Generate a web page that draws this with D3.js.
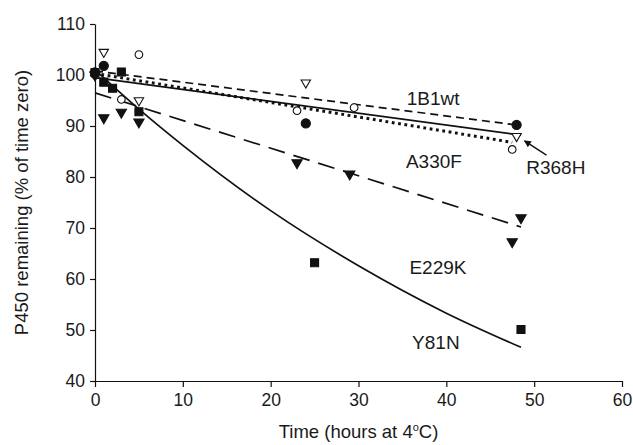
<!DOCTYPE html>
<html>
<head>
<meta charset="utf-8">
<script src="https://cdn.jsdelivr.net/npm/d3@7"></script>
<style>
body{margin:0;background:#fff;}
text{font-family:"Liberation Sans",Arial,sans-serif;fill:#1a1a1a;}
</style>
</head>
<body>
<script>

// measured points [time (h), % remaining]
var wt1B1 = [[0,100],[1,104.5],[5,95],[24,98.5],[48,88]];
var a330f = [[0,100],[3,95.2],[5,104],[23,93],[29.5,93.6],[47.5,85.4]];
var r368h = [[0,100.5],[1,101.8],[24,90.5],[48,90.2]];
var e229k = [[0,100],[1,91.6],[3,92.7],[5,90.8],[23,82.8],[29,80.6],[47.5,67.3],[48.5,72]];
var y81n = [[0,100.5],[1,98.6],[2,97.4],[3,100.6],[5,92.8],[25,63.2],[48.5,50.1]];

// trend lines
var trendWt = [[0,100.8],[48,90.2]];
var trendA330f = [[0,100.3],[47.5,86.8]];
var trendR368h = [[0,99.5],[48.5,88.2]];
var trendE229k = [[0,96.5],[48.5,70.2]];
var trendY81n = [[0,101],[5,93.3],[10,86.2],[20,73.4],[30,62.6],[40,53.3],[48.5,46.6]];

var xTicks = [0,10,20,30,40,50,60];
var yTicks = [40,50,60,70,80,90,100,110];

var labels = [
    {text:"1B1wt", t:35.5, v:94.2},
    {text:"A330F", t:35.4, v:81.7},
    {text:"R368H", t:49.1, v:80.5},
    {text:"E229K", t:35.8, v:61},
    {text:"Y81N",  t:36.1, v:46.2}
];
var arrowLine = [[51.4,84.3],[48.9,87.1]];

var margin = {left:95,top:24};
var width = 527;
var height = 357;

var svg = d3.select("body").append("svg").attr("width",633).attr("height",445);

var defs = svg.append("defs");
defs.append("marker").attr("id","arrow")
    .attr("viewBox","0 0 10 10").attr("refX",9).attr("refY",5)
    .attr("markerWidth",9).attr("markerHeight",7).attr("orient","auto")
    .attr("markerUnits","userSpaceOnUse")
    .append("path").attr("d","M0,0L10,5L0,10z").attr("fill","#111");

var chartGroup = svg.append("g")
            .attr("transform","translate("+margin.left+","+margin.top+")");

var x = d3.scaleLinear().domain([0,60]).range([0,width]);
var y = d3.scaleLinear().domain([40,110]).range([height,0]);

var xAxis = d3.axisBottom(x).tickValues(xTicks).tickSize(6).tickSizeOuter(0).tickPadding(7);
var yAxis = d3.axisLeft(y).tickValues(yTicks).tickSize(5).tickSizeOuter(0).tickPadding(5);

var gx = chartGroup.append("g").attr("class","x axis").attr("transform","translate(0,"+height+")").call(xAxis);
var gy = chartGroup.append("g").attr("class","y axis").call(yAxis);
svg.selectAll(".axis path, .axis line").attr("stroke","#111").attr("stroke-width",1.2);
svg.selectAll(".axis text").attr("font-size","17.5px").attr("fill","#1a1a1a")
    .attr("font-family","'Liberation Sans',Arial,sans-serif");

var line = d3.line().x(function(d){return x(d[0]);}).y(function(d){return y(d[1]);});

var trends = [
    {data:trendWt, dash:"8,5", w:1.7},
    {data:trendA330f, dash:"2.8,3.6", w:3},
    {data:trendR368h, dash:null, w:1.7},
    {data:trendE229k, dash:"17,9", w:1.7},
    {data:trendY81n, dash:null, w:1.7}
];

chartGroup.selectAll(".trend").data(trends).enter().append("path")
    .attr("class","trend")
    .attr("fill","none")
    .attr("stroke","#111")
    .attr("stroke-width",function(d){return d.w;})
    .attr("stroke-dasharray",function(d){return d.dash;})
    .attr("d",function(d){return d.data===trendY81n ? line.curve(d3.curveMonotoneX)(d.data) : line.curve(d3.curveLinear)(d.data);});

var series = [
    {data:wt1B1, shape:d3.symbolTriangle, size:38, rot:180, fill:"#fff"},
    {data:a330f, shape:d3.symbolCircle, size:46, rot:0, fill:"#fff"},
    {data:r368h, shape:d3.symbolCircle, size:66, rot:0, fill:"#111"},
    {data:e229k, shape:d3.symbolTriangle, size:46, rot:180, fill:"#111"},
    {data:y81n, shape:d3.symbolSquare, size:64, rot:0, fill:"#111"}
];

series.forEach(function(s){
    chartGroup.selectAll(null).data(s.data).enter().append("path")
        .attr("d",d3.symbol().type(s.shape).size(s.size))
        .attr("transform",function(d){return "translate("+x(d[0])+","+y(d[1])+") rotate("+s.rot+")";})
        .attr("fill",s.fill)
        .attr("stroke","#111")
        .attr("stroke-width",1.1);
});

chartGroup.selectAll(".lbl").data(labels).enter().append("text")
    .attr("class","lbl")
    .attr("x",function(d){return x(d.t);})
    .attr("y",function(d){return y(d.v);})
    .attr("font-size","19px")
    .text(function(d){return d.text;});

chartGroup.append("path")
    .attr("d",line.curve(d3.curveLinear)(arrowLine))
    .attr("stroke","#111").attr("stroke-width",1.4)
    .attr("marker-end","url(#arrow)");

svg.append("text")
    .attr("transform","translate(22,"+(margin.top+height/2)+") rotate(-90)")
    .attr("text-anchor","middle")
    .attr("dy","0.35em")
    .attr("font-size","18.5px")
    .text("P450 remaining (% of time zero)");

var xt = svg.append("text")
    .attr("x",margin.left+width/2)
    .attr("y",438)
    .attr("text-anchor","middle")
    .attr("font-size","18.5px");
xt.append("tspan").text("Time (hours at 4");
xt.append("tspan").attr("dy","-7").attr("font-size","11px").text("o");
xt.append("tspan").attr("dy","7").text("C)");

</script>
</body>
</html>
